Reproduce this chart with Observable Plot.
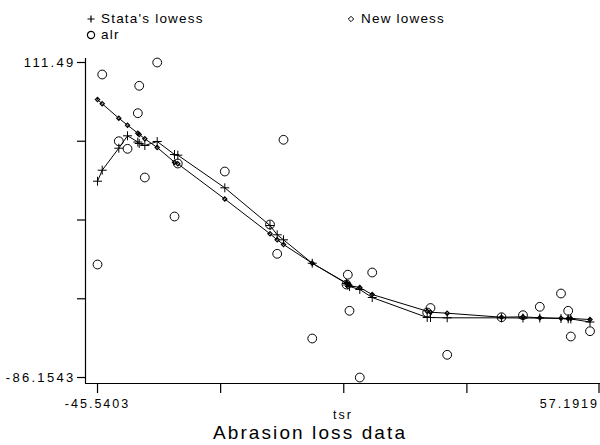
<!DOCTYPE html>
<html><head><meta charset="utf-8">
<script src="https://cdn.jsdelivr.net/npm/d3@7"></script>
<script src="https://cdn.jsdelivr.net/npm/@observablehq/plot@0.6"></script>
<style>
body{margin:0;background:#fff;}
#wrap{position:relative;width:600px;height:445px;font-family:"Liberation Sans",Arial,sans-serif;color:#000;overflow:hidden;background:#fff;}
.leg{position:absolute;font-size:13.5px;letter-spacing:1.2px;display:flex;align-items:center;white-space:nowrap;}
.leg svg{margin-right:5px;}
#chart{position:absolute;left:0;top:44px;}
#title{position:absolute;top:423px;left:20px;width:580px;text-align:center;font-size:19px;letter-spacing:2.1px;line-height:20px;}
</style></head>
<body><div id="wrap"><div id="legend"></div><div id="chart"></div><div id="title"></div></div>
<script>
// data (sorted by tsr)
const tsr = [-45.5403, -44.56, -41.10, -39.28, -37.13, -36.84, -35.67, -33.09, -29.48, -28.79,
  -18.99, -9.56, -8.06, -6.74, -0.75, 6.40, 6.67, 7.02, 9.17, 11.76,
  23.23, 23.92, 27.40, 38.73, 43.21, 46.72, 51.14, 52.64, 53.19, 57.1919];
const alr = [-15.25, 103.96, 62.11, 57.34, 79.68, 96.87, 39.33, 111.49, 14.86, 48.12,
  43.10, 9.84, -8.54, 62.99, -61.68, -27.80, -21.65, -44.30, -86.1543, -20.27,
  -45.37, -42.55, -71.91, -48.32, -47.06, -41.79, -33.45, -44.30, -60.43, -57.10];
const stataLowess = [37.01, 43.91, 57.72, 65.50, 61.60, 60.67, 59.41, 61.92, 53.77, 53.33,
  32.87, 9.22, 3.38, 0.24, -14.44, -27.20, -28.11, -29.06, -30.93, -35.96,
  -48.51, -48.51, -48.70, -48.70, -48.83, -48.83, -49.13, -49.33, -49.40, -51.33];
const newLowess = [88.27, 85.58, 76.54, 72.15, 67.13, 66.31, 63.62, 58.16, 48.93, 47.93,
  25.84, 4.01, 0.24, -2.70, -14.44, -26.90, -27.49, -28.43, -29.68, -34.08,
  -44.55, -45.18, -45.81, -48.32, -48.07, -48.70, -48.95, -49.13, -49.13, -49.76];
const seriesNames = ["Stata's lowess", "New lowess", "alr"];
const xTickLabels = ["-45.5403", "", "", "", "57.1919"];
const yTickLabels = ["-86.1543", "", "", "", "111.49"];
const xTitle = "tsr";
const chartTitle = "Abrasion loss data";

const rows = tsr.map((x, i) => ({x, alr: alr[i], stata: stataLowess[i], nw: newLowess[i]}));
const [xmin, xmax] = d3.extent(tsr);
const [ymin, ymax] = d3.extent(alr);
const xs = xmax - xmin, ys = ymax - ymin;
const xDomain = [xmin - xs * 0.0244, xmax + xs * 0.0213];
const yDomain = [ymin - ys * 0.019, ymax + ys * 0.0127];
const xTicks = d3.range(5).map(i => xmin + i * xs / 4);
const yTicks = d3.range(5).map(i => ymin + i * ys / 4);

const plot = Plot.plot({
  width: 600, height: 381,
  marginTop: 14, marginLeft: 85, marginRight: 0, marginBottom: 42,
  style: {fontFamily: "'Liberation Sans', Arial, sans-serif", background: "transparent", color: "#000", overflow: "visible"},
  x: {domain: xDomain},
  y: {domain: yDomain},
  marks: [
    Plot.ruleX([xDomain[0]], {stroke: "#000", strokeWidth: 1.2}),
    Plot.ruleY([yDomain[0]], {stroke: "#000", strokeWidth: 1.2}),
    Plot.axisX({ticks: xTicks.slice(0, 4), tickFormat: (d, i) => xTickLabels[i], tickSize: 10, tickPadding: 6,
      fontSize: 12.5, label: xTitle, labelAnchor: "center", labelArrow: "none", labelOffset: 35, stroke: "#000", strokeWidth: 1.2}),
    Plot.axisX({ticks: xTicks.slice(4), tickFormat: (d, i) => xTickLabels[4 + i], tickSize: 10, tickPadding: 6,
      fontSize: 12.5, label: null, textAnchor: "end", dx: 9, stroke: "#000", strokeWidth: 1.2}),
    Plot.axisY({ticks: yTicks, tickFormat: (d, i) => yTickLabels[i], tickSize: 8, tickPadding: 2,
      fontSize: 13, label: null, stroke: "#000", strokeWidth: 1.2, className: "yax"}),
    Plot.line(rows, {x: "x", y: "stata", stroke: "#000", strokeWidth: 1}),
    Plot.line(rows, {x: "x", y: "nw", stroke: "#000", strokeWidth: 1}),
    Plot.dot(rows, {x: "x", y: "stata", symbol: "plus", r: 3, stroke: "#000", strokeWidth: 1}),
    Plot.dot(rows, {x: "x", y: "nw", symbol: "diamond2", r: 1.9, stroke: "#000", strokeWidth: 1.2}),
    Plot.dot(rows, {x: "x", y: "alr", symbol: "circle", r: 4.4, stroke: "#000", fill: "none", strokeWidth: 1})
  ]
});
plot.querySelectorAll("text").forEach(t => t.style.letterSpacing = "2px");
plot.querySelectorAll(".yax text").forEach(t => t.style.letterSpacing = "2.3px");
document.getElementById("chart").appendChild(plot);

// legend
const sym = {
  0: '<svg width="10" height="10"><path d="M5,1.5V8.5M1.5,5H8.5" stroke="#000" stroke-width="1.2"/></svg>',
  1: '<svg width="10" height="10"><path d="M5,2.3L7.7,5L5,7.7L2.3,5Z" stroke="#000" fill="none" stroke-width="1"/></svg>',
  2: '<svg width="10" height="10"><circle cx="5" cy="5" r="3.6" stroke="#000" fill="none" stroke-width="1.2"/></svg>'
};
const pos = [[86, 11], [346, 11], [86, 27]];
document.getElementById("legend").innerHTML = seriesNames.map((n, i) =>
  `<div class="leg" style="left:${pos[i][0]}px;top:${pos[i][1]}px">${sym[i]}<span>${n}</span></div>`).join("");
document.getElementById("title").textContent = chartTitle;
</script>
</body></html>
